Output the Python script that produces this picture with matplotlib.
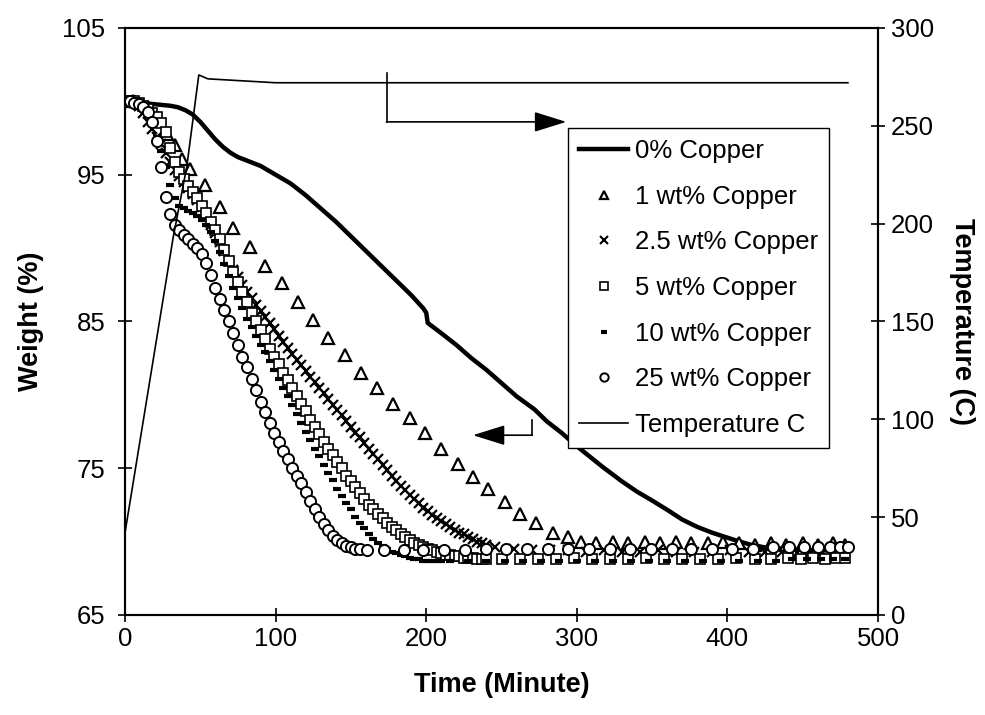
import matplotlib
matplotlib.use("Agg")
import matplotlib.pyplot as plt
from matplotlib.lines import Line2D
import numpy as np

plt.rcParams['font.family'] = ['Liberation Sans', 'DejaVu Sans']

# ---- data ----
# 0% copper, thick line
t_0 = [0, 10, 20, 30, 35, 40, 45, 50, 55, 60, 65, 70, 75, 80, 85, 90, 95, 100, 110, 120,
       130, 140, 150, 160, 170, 180, 190, 198, 200, 201, 210, 220, 230, 240, 250, 260, 272,
       280, 290, 300, 317, 330, 340, 350, 361, 370, 380, 390, 405, 415, 425, 440, 460, 480]
w_0 = [100.0, 99.9, 99.8, 99.7, 99.6, 99.4, 99.1, 98.6, 98.0, 97.4, 96.9, 96.5, 96.2, 96.0,
       95.8, 95.6, 95.3, 95.0, 94.4, 93.6, 92.7, 91.8, 90.8, 89.8, 88.8, 87.8, 86.8, 85.9,
       85.6, 84.9, 84.2, 83.4, 82.5, 81.7, 80.8, 79.9, 79.0, 78.2, 77.4, 76.5, 75.1, 74.1,
       73.4, 72.8, 72.1, 71.5, 71.0, 70.6, 70.1, 69.8, 69.6, 69.5, 69.4, 69.4]

# 1 wt% copper, triangles
t_1 = [5, 15, 22, 28, 33, 38, 43, 53, 63, 72, 83, 93, 104, 115, 125, 135, 146, 157, 167,
       178, 189, 199, 210, 221, 231, 241, 252, 262, 273, 284, 294, 303, 313, 324, 334, 345,
       355, 366, 376, 387, 397, 408, 418, 429, 439, 450, 460, 470, 478]
w_1 = [100.0, 99.6, 98.8, 97.8, 97.0, 96.1, 95.4, 94.3, 92.8, 91.4, 90.1, 88.8, 87.6, 86.3,
       85.1, 83.9, 82.7, 81.5, 80.5, 79.4, 78.4, 77.4, 76.3, 75.3, 74.4, 73.6, 72.7, 71.9,
       71.3, 70.6, 70.3, 70.0, 69.9, 70.0, 69.9, 70.0, 69.9, 70.0, 69.9, 69.9, 70.0, 69.9,
       69.8, 69.9, 69.8, 69.9, 69.8, 69.9, 69.8]

# 2.5 wt% copper, x markers (3 minute readings, then sparse tail)
t_25 = list(np.arange(0, 241, 3)) + [246, 258, 270, 282, 294, 306, 318, 330, 342, 354, 366,
                                      378, 390, 402, 414, 425, 436, 446, 455, 463, 470, 477]
w_25 = [100.0, 100.0, 99.9, 99.7, 99.2, 98.6, 98.1, 97.6, 97.1, 96.5,
        95.9, 95.3, 94.9, 94.5, 94.1, 93.7, 93.3, 92.8, 92.2, 91.6,
        91.0, 90.4, 89.8, 89.1, 88.5, 88.0, 87.5, 87.0, 86.6, 86.1,
        85.7, 85.3, 84.9, 84.5, 84.0, 83.6, 83.2, 82.8, 82.4, 82.0,
        81.6, 81.2, 80.9, 80.5, 80.1, 79.7, 79.3, 79.0, 78.6, 78.2,
        77.8, 77.4, 77.1, 76.7, 76.3, 76.0, 75.6, 75.2, 74.9, 74.5,
        74.1, 73.8, 73.5, 73.2, 72.9, 72.6, 72.3, 72.1, 71.8, 71.6,
        71.4, 71.2, 71.0, 70.8, 70.6, 70.5, 70.3, 70.2, 70.0, 69.9,
        69.8,
        69.6, 69.5, 69.4, 69.4, 69.4, 69.3, 69.4, 69.3, 69.3, 69.4, 69.3,
        69.3, 69.3, 69.4, 69.3, 69.3, 69.3, 69.2, 69.3, 69.3, 69.2, 69.3]

# 5 wt% copper, squares
t_5 = list(np.arange(0, 241, 3)) + [250, 262, 274, 286, 298, 310, 322, 334, 346, 358, 370,
                                     382, 394, 406, 418, 429, 440, 449, 457, 465, 472, 478]
w_5 = [100.0, 100.0, 100.0, 99.9, 99.7, 99.5, 99.2, 98.9, 98.5, 97.9,
       96.8, 95.9, 95.2, 94.7, 94.2, 93.8, 93.4, 92.9, 92.4, 91.8,
       91.2, 90.6, 89.9, 89.1, 88.4, 87.7, 87.0, 86.3, 85.6, 85.0,
       84.4, 83.8, 83.1, 82.6, 82.1, 81.5, 81.0, 80.5, 79.9, 79.4,
       78.9, 78.3, 77.8, 77.3, 76.8, 76.3, 75.9, 75.4, 75.0, 74.5,
       74.1, 73.7, 73.3, 72.9, 72.5, 72.2, 71.9, 71.6, 71.3, 71.0,
       70.8, 70.5, 70.3, 70.1, 69.9, 69.8, 69.6, 69.5, 69.4, 69.3,
       69.2, 69.1, 69.1, 69.0, 69.0, 68.9, 68.9, 68.9, 68.8, 68.8,
       68.8,
       68.8, 68.8, 68.8, 68.8, 68.9, 68.8, 68.8, 68.8, 68.9, 68.8, 68.8,
       68.8, 68.8, 68.9, 68.8, 68.8, 68.9, 68.8, 68.9, 68.8, 68.9, 68.9]

# 10 wt% copper, dashes
t_10 = list(np.arange(0, 211, 3)) + [216, 228, 240, 252, 264, 276, 288, 300, 312, 324, 336,
                                      348, 360, 372, 384, 396, 408, 420, 432, 443, 453, 462,
                                      470, 478]
w_10 = [100.0, 100.0, 99.9, 99.8, 99.5, 99.0, 98.4, 97.6, 96.6, 95.5,
        94.3, 93.4, 92.9, 92.7, 92.5, 92.4, 92.2, 91.9, 91.6, 91.1,
        90.5, 89.7, 88.9, 88.1, 87.3, 86.6, 85.9, 85.2, 84.6, 84.0,
        83.4, 82.9, 82.3, 81.7, 81.1, 80.5, 79.9, 79.3, 78.7, 78.1,
        77.5, 76.9, 76.3, 75.8, 75.2, 74.7, 74.2, 73.6, 73.1, 72.6,
        72.2, 71.7, 71.3, 70.9, 70.5, 70.2, 69.9, 69.7, 69.5, 69.3,
        69.2, 69.1, 69.0, 68.9, 68.8, 68.8, 68.7, 68.7, 68.7, 68.7,
        68.7,
        68.7, 68.7, 68.7, 68.7, 68.7, 68.7, 68.7, 68.7, 68.7, 68.7, 68.7,
        68.7, 68.7, 68.7, 68.7, 68.7, 68.7, 68.7, 68.7, 68.8, 68.8, 68.8,
        68.8, 68.8]

# 25 wt% copper, circles
t_25c = list(np.arange(0, 157, 3)) + [161, 172, 185, 198, 212, 226, 240, 253, 267, 281, 294,
                                       308, 322, 335, 349, 363, 376, 390, 403, 417, 430, 441,
                                       451, 460, 468, 475, 480]
w_25c = [100.0, 100.0, 99.9, 99.8, 99.6, 99.3, 98.6, 97.3, 95.5, 93.5,
         92.3, 91.6, 91.2, 90.9, 90.6, 90.3, 90.0, 89.6, 89.0, 88.2,
         87.3, 86.5, 85.8, 85.0, 84.2, 83.4, 82.6, 81.9, 81.1, 80.3,
         79.5, 78.8, 78.1, 77.4, 76.8, 76.2, 75.6, 75.0, 74.5, 74.0,
         73.4, 72.8, 72.2, 71.7, 71.2, 70.8, 70.4, 70.1, 69.9, 69.7,
         69.6, 69.5, 69.5,
         69.4, 69.4, 69.4, 69.4, 69.4, 69.4, 69.5, 69.5, 69.5, 69.5, 69.5,
         69.5, 69.5, 69.5, 69.5, 69.5, 69.5, 69.5, 69.5, 69.5, 69.6, 69.6,
         69.6, 69.6, 69.6, 69.6, 69.6]

# furnace temperature
t_temp = [0, 32, 41, 49, 55, 100, 480]
temp = [42, 193, 229, 276, 274, 272, 272]

# ---- figure ----
fig = plt.figure(figsize=(9.85, 7.15), dpi=100)
ax = fig.add_axes([0.1269, 0.1399, 0.7645, 0.8210])
ax2 = ax.twinx()

ax.plot(t_0, w_0, color='k', lw=3.2, solid_capstyle='butt', zorder=3)
ax.plot(t_1, w_1, ls='none', marker='^', ms=8, mfc='white', mec='k', mew=1.6, zorder=4)
ax.plot(t_25, w_25, ls='none', marker='x', ms=7.5, mec='k', mew=1.6, zorder=4)
ax.plot(t_5, w_5, ls='none', marker='s', ms=6.5, mfc='white', mec='k', mew=1.2, zorder=4)
ax.plot(t_10, w_10, ls='none', marker='_', ms=6, mec='k', mew=3, zorder=4)
ax.plot(t_25c, w_25c, ls='none', marker='o', ms=8, mfc='white', mec='k', mew=1.4, zorder=4)
ax2.plot(t_temp, temp, color='k', lw=1.2)

ax.set_xlim(0, 500)
ax.set_ylim(65, 105)
ax2.set_ylim(0, 300)
ax.set_xticks([0, 100, 200, 300, 400, 500])
ax.set_yticks([65, 75, 85, 95, 105])
ax2.set_yticks([0, 50, 100, 150, 200, 250, 300])

ax.tick_params(axis='both', direction='inout', length=10, width=1.2, labelsize=18.5, pad=4)
ax.tick_params(axis='y', pad=9)
ax2.tick_params(axis='y', direction='inout', length=10, width=1.2, labelsize=18.5, pad=4)
for a in (ax, ax2):
    for s in a.spines.values():
        s.set_linewidth(1.5)
        s.set_color('k')

ax.set_xlabel('Time (Minute)', fontsize=19.5, fontweight='bold', labelpad=15)
ax.set_ylabel('Weight (%)', fontsize=19.5, fontweight='bold', labelpad=13)
ax2.set_ylabel('Temperature (C)', fontsize=19.5, fontweight='bold', rotation=270, labelpad=30)

# arrows pointing to the axes
ax2.plot([174, 174], [277, 252], color='k', lw=1.2)
ax2.annotate('', xy=(293, 252), xytext=(173.6, 252),
             arrowprops=dict(arrowstyle='-|>,head_length=0.8,head_width=0.25',
                             mutation_scale=25, color='k', lw=1.2, shrinkA=0, shrinkB=0))
ax.plot([270, 270], [78.3, 77.25], color='k', lw=1.2)
ax.annotate('', xy=(231, 77.25), xytext=(270.3, 77.25),
            arrowprops=dict(arrowstyle='-|>,head_length=0.8,head_width=0.25',
                            mutation_scale=25, color='k', lw=1.2, shrinkA=0, shrinkB=0))

handles = [
    Line2D([], [], color='k', lw=3.2),
    Line2D([], [], ls='none', marker='^', ms=6, mfc='white', mec='k', mew=1.6),
    Line2D([], [], ls='none', marker='x', ms=6, mec='k', mew=1.5),
    Line2D([], [], ls='none', marker='s', ms=6, mfc='white', mec='k', mew=1.2),
    Line2D([], [], ls='none', marker='_', ms=5, mec='k', mew=3),
    Line2D([], [], ls='none', marker='o', ms=6, mfc='white', mec='k', mew=1.4),
    Line2D([], [], color='k', lw=1.2),
]
labels = ['0% Copper', '1 wt% Copper', '2.5 wt% Copper', '5 wt% Copper',
          '10 wt% Copper', '25 wt% Copper', 'Temperature C']
leg = ax2.legend(handles, labels, loc='upper left', bbox_to_anchor=(0.588, 0.830),
                 borderaxespad=0, fontsize=18.5, frameon=True, fancybox=False,
                 framealpha=1, edgecolor='k', labelspacing=0.84, handlelength=1.9,
                 handletextpad=0.25, borderpad=0.45)
leg.get_frame().set_linewidth(1.0)

fig.savefig('out.png', dpi=100, facecolor='white')
